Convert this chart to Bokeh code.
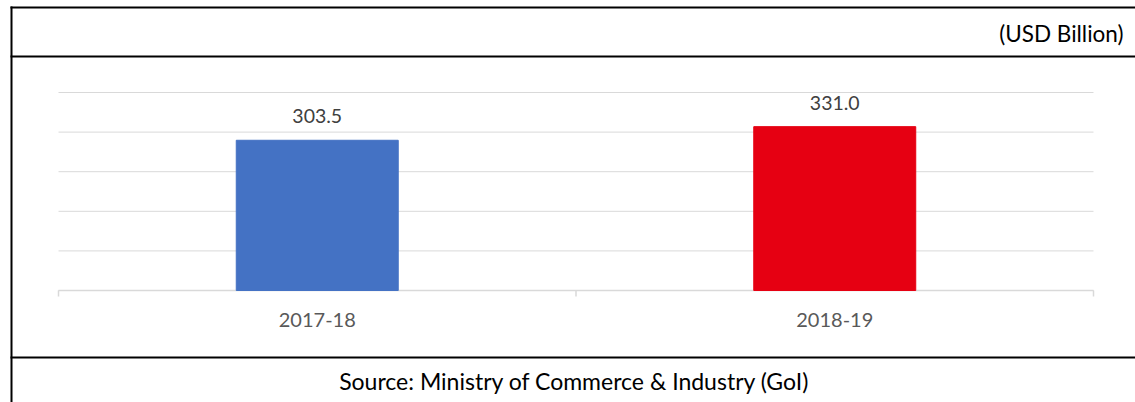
from bokeh.plotting import figure
from bokeh.models import ColumnDataSource, BoxAnnotation, Label, Range1d
from bokeh.core.properties import value
from bokeh.embed import file_html
from bokeh.resources import INLINE

# ---- data ----
categories = ["2017-18", "2018-19"]
values = [303.5, 331.0]
bar_colors = ["#4472C4", "#E60012"]
value_labels = ["303.5", "331.0"]
grid_ticks = [0, 80, 160, 240, 320, 400]
unit_text = "(USD Billion)"
source_text = "Source: Ministry of Commerce & Industry (GoI)"

FONT = "Lato"
W, H = 1135, 402
n = len(categories)

# the frame covers the whole canvas; ranges are chosen so the plot area
# (0..n categories, 0..400 values) lands on the chart region
x_range = Range1d(-0.11208, n + 0.08116)
y_range = Range1d(-226.26, 585.86)

p = figure(width=W, height=H, output_backend="svg", toolbar_location=None,
           x_range=x_range, y_range=y_range,
           x_axis_location=None, y_axis_location=None, min_border=0)
p.outline_line_color = None
p.background_fill_color = "white"
p.border_fill_color = "white"
p.grid.visible = False

x_pos = [i + 0.5 for i in range(n)]
src = ColumnDataSource(dict(x=x_pos, top=values, color=bar_colors,
                            label=value_labels, cat=categories, zero=[0] * n))

# gridlines (value axis ticks)
p.segment(x0=[0] * len(grid_ticks), x1=[n] * len(grid_ticks), y0=grid_ticks, y1=grid_ticks,
          line_color="#d9d9d9", line_width=1)
# category axis line + ticks between categories
p.segment(x0=[0], x1=[n], y0=[0], y1=[0], line_color="#d9d9d9", line_width=1.5)
p.segment(x0=list(range(n + 1)), x1=list(range(n + 1)), y0=[0] * (n + 1),
          y1=[-12.1] * (n + 1), line_color="#d9d9d9", line_width=1.5)

p.vbar(x="x", top="top", width=0.313, color="color", source=src)
p.text(x="x", y="top", text="label", source=src, text_align="center",
       text_baseline="middle", y_offset=-24, text_font=value(FONT),
       text_font_size="19.5px", text_color="#404040")
p.text(x="x", y="zero", text="cat", source=src, text_align="center",
       text_baseline="middle", y_offset=29, text_font=value(FONT),
       text_font_size="20px", text_color="#595959")

# table lines (canvas units)
def box(l, r, t, b):
    p.add_layout(BoxAnnotation(left=l, right=r, top=t, bottom=b,
                               left_units="canvas", right_units="canvas",
                               top_units="canvas", bottom_units="canvas",
                               fill_color="black", fill_alpha=1, line_color=None,
                               level="overlay"))

box(10, W, 6, 8)
box(10, W, 55, 57)
box(10, W, 356, 358)
box(10, 12, 6, H)

p.add_layout(Label(x=1123, y=33, x_units="canvas", y_units="canvas", text=unit_text,
                   text_align="right", text_baseline="middle", text_font=FONT,
                   text_font_size="22.5px", text_color="black"))
p.add_layout(Label(x=574, y=380, x_units="canvas", y_units="canvas", text=source_text,
                   text_align="center", text_baseline="middle", text_font=FONT,
                   text_font_size="23px", text_color="black"))

open("out.html", "w").write(file_html(p, INLINE))
